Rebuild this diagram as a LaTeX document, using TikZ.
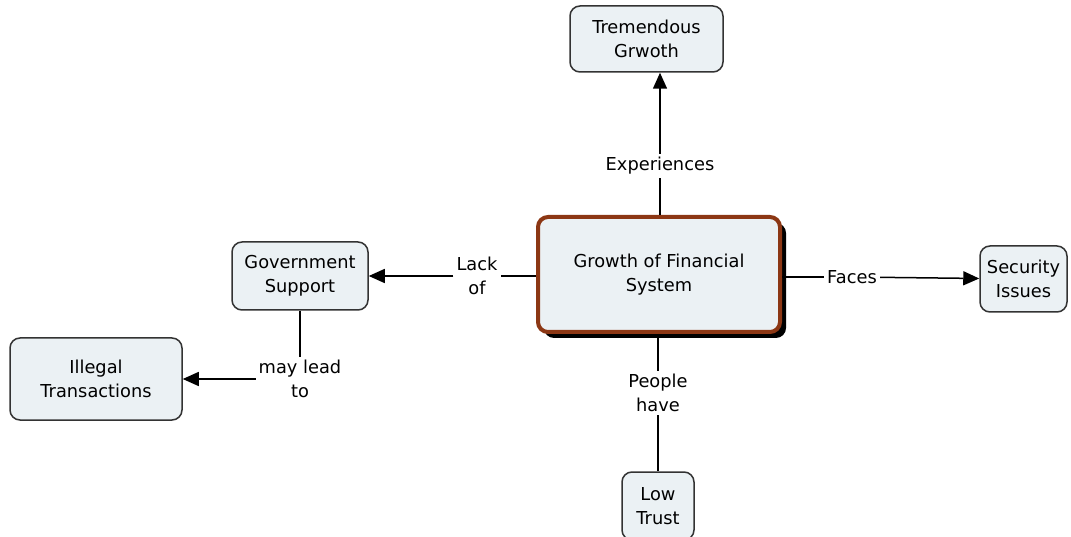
\documentclass[tikz,border=0pt]{standalone}
\usepackage{fontspec}
\setmainfont{DejaVu Sans}
\usetikzlibrary{arrows.meta,shadows}

\definecolor{boxfill}{HTML}{EBF1F4}
\definecolor{rust}{HTML}{8C3714}

\begin{document}
\begin{tikzpicture}[x=1pt, y=-1pt,
	concept/.style={draw=black!80, line width=1.5pt, fill=boxfill, rounded corners=10pt,
		align=center, inner sep=2pt, font=\fontsize{17.8}{24}\selectfont},
	linking/.style={fill=white, align=center, inner sep=3pt, font=\fontsize{17.8}{24}\selectfont},
	link/.style={line width=1.5pt, draw=black},
	tip/.style={link, -{Triangle[length=16pt, width=14pt]}}]
	\useasboundingbox (0,0) rectangle (1071,537);
	
	% Concepts
	\node[concept, line width=4pt, draw=rust, minimum width=242pt, minimum height=115pt,
		drop shadow={shadow xshift=6pt, shadow yshift=-6pt, opacity=1, fill=black}]
		(growth) at (659,274.5) {Growth of Financial\\System};
	\node[concept, minimum width=153pt, minimum height=66pt] (tremendous) at (646.5,39) {Tremendous\\Grwoth};
	\node[concept, minimum width=136pt, minimum height=68pt] (government) at (300,276) {Government\\Support};
	\node[concept, minimum width=172pt, minimum height=82pt] (illegal) at (96,379) {Illegal\\Transactions};
	\node[concept, minimum width=87pt, minimum height=66pt] (security) at (1023.5,279) {Security\\Issues};
	\node[concept, minimum width=72pt, minimum height=68pt] (lowtrust) at (658,506) {Low\\Trust};
	
	% Linking phrases
	\node[linking] (experiences) at (660,166) {Experiences};
	\node[linking] (lackof) at (477,276) {Lack\\of};
	\node[linking] (mayleadto) at (300,379) {may lead\\to};
	\node[linking] (faces) at (852,277) {Faces};
	\node[linking] (peoplehave) at (658,393) {People\\have};
	
	% Connectors
	\draw[link] (growth.north -| experiences) -- (experiences);
	\draw[tip] (experiences) -- (tremendous.south -| experiences);
	\draw[link] (growth.west |- lackof) -- (lackof);
	\draw[tip] (lackof) -- (government.east |- lackof);
	\draw[link] (government) -- (mayleadto);
	\draw[tip] (mayleadto) -- (illegal);
	\draw[link] (growth.east |- faces) -- (faces);
	\draw[tip] (faces) -- (security);
	\draw[link] (growth.south -| peoplehave) -- (peoplehave);
	\draw[link] (peoplehave) -- (lowtrust);
	
	% Labels on top of the lines
	\node[linking] at (experiences) {Experiences};
	\node[linking] at (lackof) {Lack\\of};
	\node[linking] at (mayleadto) {may lead\\to};
	\node[linking] at (faces) {Faces};
	\node[linking] at (peoplehave) {People\\have};
	
\end{tikzpicture}
\end{document}
